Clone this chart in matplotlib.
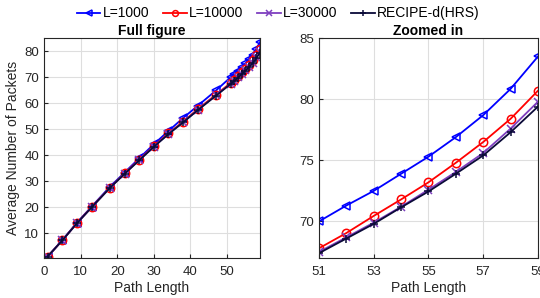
import numpy as np
import matplotlib
matplotlib.use('Agg')
import matplotlib.pyplot as plt

plt.rcParams['font.family'] = ['Liberation Sans', 'DejaVu Sans']

path_len = [1, 5, 9, 13, 18, 22, 26, 30, 34, 38, 42, 47, 51, 52, 53, 54, 55, 56, 57, 58, 59]
l1000 = [1.0, 7.3, 14.0, 20.2, 27.8, 33.3, 38.8, 44.2, 49.3, 54.3, 59.0, 64.9,
         70.0, 71.3, 72.5, 73.9, 75.3, 76.9, 78.7, 80.85, 83.5]
l10000 = [1.0, 7.2, 13.9, 20.0, 27.5, 33.0, 38.3, 43.5, 48.4, 52.9, 57.7, 63.3,
          67.8, 69.05, 70.45, 71.8, 73.2, 74.8, 76.5, 78.4, 80.7]
l30000 = [1.0, 7.2, 13.8, 19.9, 27.4, 32.9, 38.1, 43.3, 48.2, 52.7, 57.4, 63.0,
          67.5, 68.7, 69.9, 71.2, 72.6, 74.05, 75.6, 77.6, 79.8]
recipe = [1.0, 7.2, 13.8, 19.9, 27.4, 32.8, 38.0, 43.2, 48.1, 52.6, 57.3, 62.9,
          67.4, 68.6, 69.8, 71.15, 72.45, 73.9, 75.4, 77.3, 79.4]

series = [
    ('L=1000', l1000, '#0000ff', '<'),
    ('L=10000', l10000, '#ff0000', 'o'),
    ('L=30000', l30000, '#7e3fbf', 'x'),
    ('RECIPE-d(HRS)', recipe, '#0a0a38', '+'),
]

fig = plt.figure(figsize=(5.4, 2.98), dpi=100)
ax1 = fig.add_axes([0.0815, 0.134, 0.4, 0.738])
ax2 = fig.add_axes([0.5907, 0.134, 0.4056, 0.738])

for ax in (ax1, ax2):
    for name, vals, col, mk in series:
        ax.plot(path_len, vals, color=col, marker=mk, markersize=6,
                markerfacecolor='none', markeredgewidth=1.1, linewidth=1.3, label=name)
    ax.grid(True, color='#dedede', linewidth=0.8)
    ax.set_axisbelow(True)
    ax.tick_params(labelsize=9.5, labelcolor='#262626', color='#262626',
                   direction='in', length=3)
    ax.tick_params(axis='x', pad=6)
    for s in ax.spines.values():
        s.set_color('#262626')
        s.set_linewidth(0.8)
    ax.set_xlabel('Path Length', fontsize=10, color='#262626', labelpad=2)

ax1.set_xlim(0, 59)
ax1.set_ylim(0.4, 85)
ax1.set_xticks([0, 10, 20, 30, 40, 50])
ax1.set_yticks([10, 20, 30, 40, 50, 60, 70, 80])
ax1.set_ylabel('Average Number of Packets', fontsize=10, color='#262626', labelpad=3)
ax1.set_title('Full figure', fontsize=10, fontweight='bold', pad=2)

ax2.set_xlim(51, 59)
ax2.set_ylim(67, 85)
ax2.set_xticks([51, 53, 55, 57, 59])
ax2.set_yticks([70, 75, 80, 85])
ax2.set_title('Zoomed in', fontsize=10, fontweight='bold', pad=2)

h, l = ax1.get_legend_handles_labels()
fig.legend(h, l, loc='center', bbox_to_anchor=(0.515, 0.955), ncol=4, frameon=False,
           fontsize=10, handlelength=1.7, columnspacing=1.0, handletextpad=0.15,
           markerscale=0.7, borderaxespad=0)

fig.savefig('out.png', dpi=100)
